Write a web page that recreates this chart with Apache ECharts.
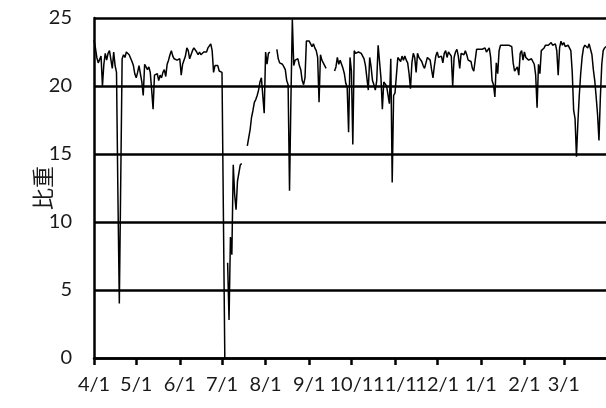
<!DOCTYPE html>
<html>
<head>
<meta charset="utf-8">
<script src="https://cdn.jsdelivr.net/npm/echarts@6/dist/echarts.min.js"></script>
<style>
  html, body { margin: 0; padding: 0; background: #fff; }
  #chart { width: 606px; height: 408px; }
</style>
</head>
<body>
<div id="chart"></div>
<script>
// Fiscal-year months and their lengths (April through March)
const monthNums = [4, 5, 6, 7, 8, 9, 10, 11, 12, 1, 2, 3];
const monthLengths = [30, 31, 30, 31, 31, 30, 31, 30, 31, 31, 28, 31];

// Daily values per month (null = no reading that day)
const apr = [23.4, 22.8, 22.1, 21.7, 21.8, 22.2, 20.0, 21.6, 22.4, 21.9, 22.4, 22.6, 22.7, 21.3, 22.5, 21.5, 21.0, 12.0, 4.0, 13.0, 22.0, 22.3, 22.1, 22.5, 22.6, 22.3, 22.2, 21.8, 21.5, 20.9];
const may = [20.6, 21.0, 21.5, 20.9, 20.3, 19.3, 21.6, 21.4, 21.2, 21.4, 21.0, 19.7, 18.3, 20.8, 20.7, 20.9, 20.4, 20.8, 20.6, 21.0, 21.2, 20.7, 21.6, 21.9, 22.3, 22.6, 22.2, 22.0, 21.9, 21.9, 21.8];
const jun = [22.0, 20.8, 21.6, 21.7, 22.2, 22.8, 22.6, 22.0, 22.3, 22.6, 22.8, 22.8, 22.5, 22.3, 22.5, 22.3, 22.3, 22.5, 22.6, 22.5, 22.8, 22.7, 23.1, 22.6, 21.0, 21.5, 21.4, 21.5, 21.1, 21.0];
const jul = [21.0, 20.9, 0, null, 7.0, 2.8, 8.9, 7.6, 14.2, 12.0, 10.9, 13.0, 12.9, 14.2, 14.3, null, null, null, 15.6, 16.2, 16.8, 17.7, 18.2, 18.8, 19.0, 19.3, 19.7, 20.3, 20.6, 20.7, 18.0];
const aug = [22.5, 21.6, 22.4, 22.5, null, null, null, null, 22.7, 22.0, 21.7, 21.8, 21.6, 21.4, 21.2, 20.4, 20.1, 12.3, 19.0, 24.9, 21.5, 21.9, 22.0, 22.0, 21.5, 21.2, 20.4, 20.1, 20.6, 23.3, 23.2];
const sep = [23.3, 23.4, 22.9, 23.1, 22.8, 22.6, 22.1, 18.8, 22.3, 21.9, 21.8, 21.5, 21.3, null, null, null, null, null, 21.1, 21.4, 22.1, 21.6, 21.9, 21.9, 21.3, 20.9, 20.2, 19.9, 16.6, 22.1];
const oct = [21.1, 15.7, 22.6, 22.4, 22.5, 22.5, 22.6, 22.4, 22.4, 22.0, 21.5, 20.6, 19.7, 22.1, 21.4, 20.4, 20.1, 19.7, 20.4, 23.0, 22.9, 20.6, 18.3, 20.3, 20.3, 20.0, 19.9, 18.7, 22.0, 12.9, 19.3];
const nov = [19.5, 20.8, 22.1, 22.2, 21.8, 22.2, 21.9, 22.2, 21.9, 21.7, 20.9, 19.8, 21.7, 22.4, 22.1, 21.0, 22.4, 22.1, 22.2, 21.8, 21.5, 21.3, 21.7, 22.1, 22.2, 21.9, 21.2, 20.6, 21.5, 22.2];
const dec = [22.5, 22.1, 22.2, 22.2, 21.7, 22.4, 22.6, 22.1, 22.5, 22.4, 22.2, 20.0, 22.1, 22.5, 22.7, 22.2, 21.3, 22.4, 22.5, 22.3, 22.6, 22.3, 21.9, 21.9, 21.8, 21.3, 21.1, 21.9, 22.7, 22.8, 22.7];
const jan = [22.8, 22.7, 22.8, 22.8, 22.5, 22.6, 22.8, 22.1, 20.4, 20.1, 19.2, 21.7, 20.9, 22.6, 23.0, 23.1, 23.0, 23.1, 23.0, 22.9, 23.0, 23.1, 22.9, 21.7, 21.1, 21.0, 21.4, 20.8, 22.4, 22.6, 21.9];
const feb = [22.5, 22.1, 22.2, 21.9, 22.0, 22.0, 21.8, 21.6, 20.8, 18.4, 21.6, 20.9, 22.6, 22.7, 22.8, 23.0, 23.1, 23.0, 23.1, 23.2, 23.0, 23.1, 23.1, 22.6, 20.8, 22.8, 23.3, 23.0];
const mar = [23.2, 22.9, 22.8, 23.0, 22.8, 22.6, 21.0, 18.2, 17.6, 14.8, 17.3, 19.3, 20.9, 22.1, 22.8, 23.0, 23.0, 22.8, 23.1, 23.0, 22.3, 21.2, 20.4, 19.2, 17.9, 16.0, 19.2, 21.6, 22.6, 22.8, 22.9];

// y-axis scale
const yMin = 0, yMax = 25, yStep = 5;
const yName = '比重';

// Day labels "M/D" for every day of the year
const categories = [];
monthNums.forEach((m, i) => {
  for (let d = 1; d <= monthLengths[i]; d++) categories.push(m + '/' + d);
});
const values = [].concat(apr, may, jun, jul, aug, sep, oct, nov, dec, jan, feb, mar);

const isMonthStart = (idx, val) => String(val).endsWith('/1');
const labelFont = 'Lato, "Noto Sans", sans-serif';

const chart = echarts.init(document.getElementById('chart'), null, { renderer: 'canvas' });
chart.setOption({
  animation: false,
  backgroundColor: '#ffffff',
  grid: { left: 94, right: 0, top: 18, bottom: 50, containLabel: false },
  xAxis: {
    type: 'category',
    data: categories,
    boundaryGap: false,
    axisLine: { show: true, lineStyle: { color: '#000', width: 2.5 } },
    axisTick: { show: true, interval: isMonthStart, length: 7, inside: false,
                lineStyle: { color: '#000', width: 2.5 } },
    axisLabel: { interval: isMonthStart, color: '#1a1a1a', fontSize: 20,
                 fontFamily: labelFont, margin: 17 },
    splitLine: { show: false }
  },
  yAxis: {
    type: 'value',
    min: yMin, max: yMax, interval: yStep,
    name: yName,
    nameLocation: 'middle',
    nameRotate: 90,
    nameGap: 40,
    nameMoveOverlap: false,
    nameTextStyle: { fontSize: 22, color: '#1a1a1a', fontFamily: '"Noto Sans CJK JP", sans-serif' },
    axisLine: { show: true, lineStyle: { color: '#000', width: 2.5 } },
    axisTick: { show: false },
    axisLabel: { color: '#1a1a1a', fontSize: 20, fontFamily: labelFont, margin: 22 },
    splitLine: { show: true, lineStyle: { color: '#000', width: 2.5 } }
  },
  series: [{
    type: 'line',
    data: values,
    symbol: 'none',
    connectNulls: false,
    lineStyle: { color: '#000', width: 1.5 },
    z: 3
  }]
});
</script>
</body>
</html>
